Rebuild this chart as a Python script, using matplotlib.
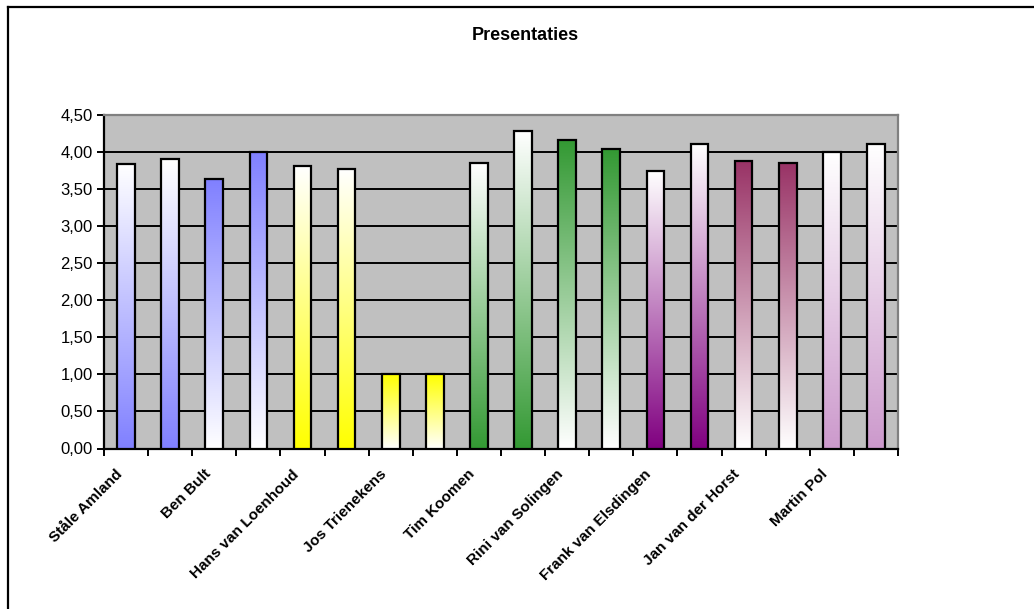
import numpy as np
import matplotlib
matplotlib.use("Agg")
import matplotlib.pyplot as plt
import matplotlib.transforms as mtransforms
from matplotlib.colors import LinearSegmentedColormap
from matplotlib.lines import Line2D

plt.rcParams["font.family"] = ["Liberation Sans", "DejaVu Sans"]

# data
speakers = [
    "Ståle Amland", "Ben Bult", "Hans van Loenhoud", "Jos Trienekens",
    "Tim Koomen", "Rini van Solingen", "Frank van Elsdingen",
    "Jan van der Horst", "Martin Pol",
]
scores = [3.83, 3.90, 3.63, 4.00, 3.80, 3.77, 1.00, 1.00, 3.85,
          4.28, 4.15, 4.04, 3.74, 4.10, 3.88, 3.85, 4.00, 4.10]
y_ticks = [0.0, 0.5, 1.0, 1.5, 2.0, 2.5, 3.0, 3.5, 4.0, 4.5]

# styling: (colour, colour at the top?) per pair of bars
bar_styles = [
    ("#8080FF", False), ("#8080FF", True),
    ("#FFFF00", False), ("#FFFF00", True),
    ("#339933", False), ("#339933", True),
    ("#800080", False), ("#993366", True),
    ("#CC99CC", False),
]

W, H = 1034, 609
fig = plt.figure(figsize=(W / 100, H / 100), dpi=100)
ax = fig.add_axes([104 / W, 1 - 448.5 / H, (898 - 104) / W, (448.5 - 114.5) / H])
ax.set_facecolor("#C0C0C0")

x = np.arange(len(scores))
bars = ax.bar(x, scores, width=0.4, facecolor="none", edgecolor="black",
              linewidth=1.6, zorder=4)

grad = np.linspace(0, 1, 256).reshape(-1, 1)
for i, patch in enumerate(bars):
    color, top = bar_styles[i // 2]
    if top:
        cmap = LinearSegmentedColormap.from_list("g", ["white", color])
    else:
        cmap = LinearSegmentedColormap.from_list("g", [color, "white"])
    x0 = patch.get_x()
    x1 = x0 + patch.get_width()
    h = patch.get_height()
    ax.imshow(grad, cmap=cmap, extent=(x0, x1, 0, h), origin="lower",
              aspect="auto", interpolation="bilinear", zorder=3)

ax.set_xlim(-0.5, len(scores) - 0.5)
ax.set_ylim(0, 4.5)

ax.set_yticks(y_ticks)
ax.set_yticklabels([f"{v:.2f}".replace(".", ",") for v in y_ticks], fontsize=12)
ax.yaxis.grid(True, color="black", linewidth=1.4)
ax.set_axisbelow(True)

ax.set_xticks(np.arange(-0.5, len(scores), 1.0))
ax.set_xticklabels([])
ax.set_xticks(x[::2], minor=True)
ax.set_xticklabels(speakers, minor=True, rotation=45, ha="right", va="center",
                   rotation_mode="anchor", fontsize=11, fontweight="bold")
ax.tick_params(axis="x", which="minor", length=0, pad=17)
ax.tick_params(axis="both", which="major", length=5, width=1.4, direction="out",
               color="black")
ax.tick_params(axis="y", pad=3)

# Excel puts the rotated labels a bit left of the category centre
shift = mtransforms.ScaledTranslation(-6 / 100, 0, fig.dpi_scale_trans)
for lbl in ax.get_xticklabels(minor=True):
    lbl.set_transform(lbl.get_transform() + shift)

for side in ("left", "bottom"):
    ax.spines[side].set_color("black")
    ax.spines[side].set_linewidth(1.6)
for side in ("top", "right"):
    ax.spines[side].set_color("#808080")
    ax.spines[side].set_linewidth(1.6)

fig.text(525 / W, 1 - 36 / H, "Presentaties", ha="center", va="center",
         fontsize=13, fontweight="bold")

# outer chart frame (only left and top edges are inside the picture)
fig.add_artist(Line2D([7.5 / W, 7.5 / W], [0, 1 - 6.5 / H], color="black",
                      linewidth=1.6, transform=fig.transFigure))
fig.add_artist(Line2D([7.5 / W, 1], [1 - 6.5 / H, 1 - 6.5 / H], color="black",
                      linewidth=1.6, transform=fig.transFigure))

fig.savefig("out.png", dpi=100)
